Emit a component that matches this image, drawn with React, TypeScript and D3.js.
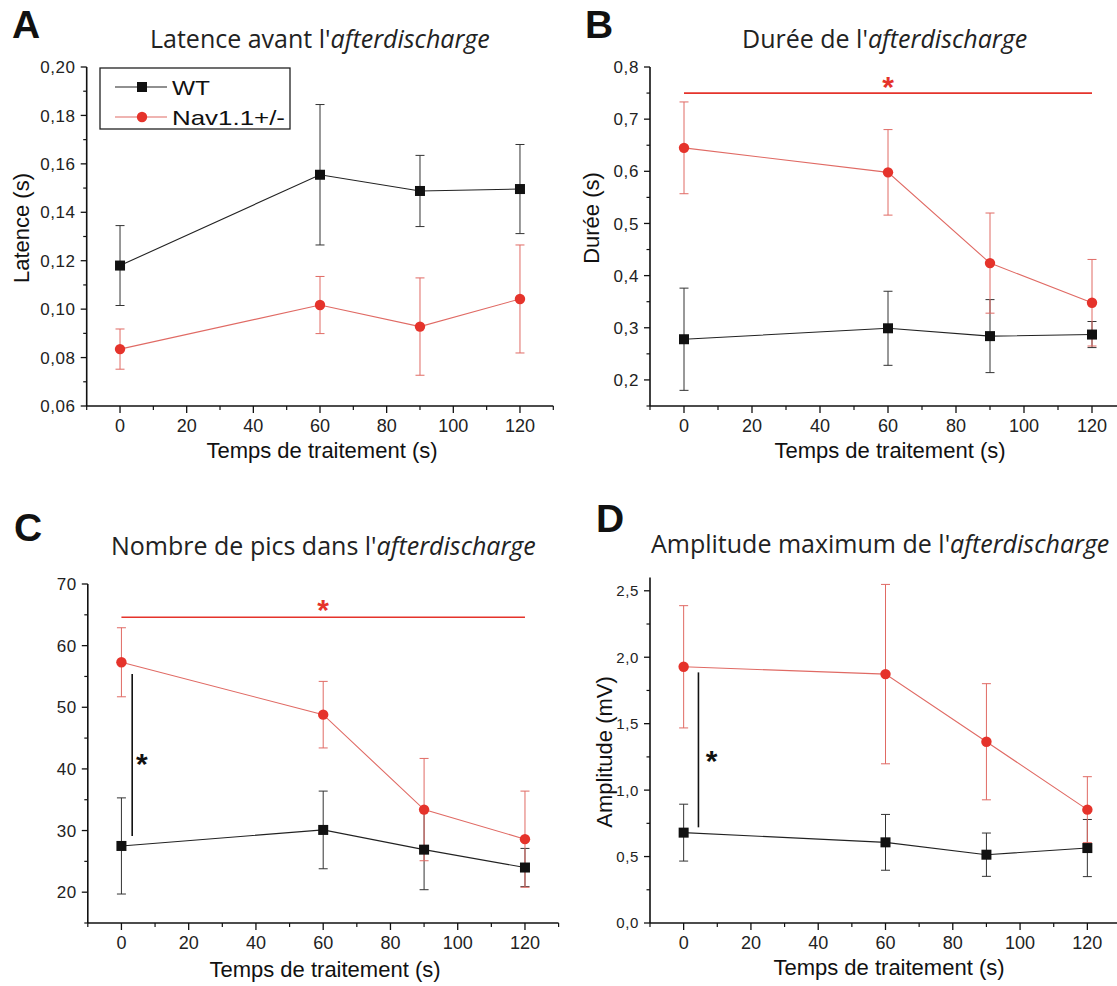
import React from 'react';
import * as d3 from 'd3';

// ---------- DATA ----------
const timePoints = [0, 60, 90, 120];
const xMajorTicks = [0, 20, 40, 60, 80, 100, 120];
const xMinorTicks = [-10, 10, 30, 50, 70, 90, 110, 130];

// A – Latence (s)
const latenceWT = [0.118, 0.1555, 0.1488, 0.1496];
const latenceWTErr = [0.0165, 0.029, 0.0147, 0.0184];
const latenceNav = [0.0835, 0.1017, 0.0928, 0.1042];
const latenceNavErr = [0.0083, 0.0118, 0.0201, 0.0223];
const latenceTicks = [0.06, 0.08, 0.1, 0.12, 0.14, 0.16, 0.18, 0.2];
const latenceMinor = [0.07, 0.09, 0.11, 0.13, 0.15, 0.17, 0.19];

// B – Durée (s)
const dureeWT = [0.278, 0.299, 0.284, 0.287];
const dureeWTErr = [0.098, 0.071, 0.07, 0.025];
const dureeNav = [0.645, 0.598, 0.424, 0.348];
const dureeNavErr = [0.088, 0.082, 0.096, 0.083];
const dureeTicks = [0.2, 0.3, 0.4, 0.5, 0.6, 0.7, 0.8];
const dureeMinor = [0.15, 0.25, 0.35, 0.45, 0.55, 0.65, 0.75];

// C – Nombre de pics
const picsWT = [27.5, 30.1, 26.9, 24.0];
const picsWTErr = [7.8, 6.3, 6.5, 3.1];
const picsNav = [57.3, 48.8, 33.4, 28.6];
const picsNavErr = [5.6, 5.4, 8.3, 7.8];
const picsTicks = [20, 30, 40, 50, 60, 70];
const picsMinor = [15, 25, 35, 45, 55, 65];

// D – Amplitude (mV)
const ampWT = [0.68, 0.607, 0.514, 0.564];
const ampWTErr = [0.214, 0.21, 0.163, 0.215];
const ampNav = [1.928, 1.873, 1.364, 0.853];
const ampNavErr = [0.46, 0.675, 0.437, 0.248];
const ampTicks = [0, 0.5, 1, 1.5, 2, 2.5];
const ampMinor = [0.25, 0.75, 1.25, 1.75, 2.25];

// significance marks (data units)
const sigDureeRed = { y: 0.75, x1: 0, x2: 120, starX: 60, starY: 0.776 };
const sigPicsRed = { y: 64.6, x1: 0, x2: 120, starX: 60, starY: 66.9 };
const sigPicsBlack = { x: 3.2, y1: 29.1, y2: 55.4, starX: 6.1, starY: 41.9 };
const sigAmpBlack = { x: 4.4, y1: 0.72, y2: 1.886, starX: 8.3, starY: 1.27 };

// ---------- STYLE ----------
const RED = '#e5332b';
const RED_LINE = '#e06a64';
const BLACK = '#111';
const TICK_FONT = '"Liberation Sans", Arial, sans-serif';
const TITLE_FONT = '"Open Sans", "Noto Sans", sans-serif';

const comma = (f: string) => (v: number) => d3.format(f)(v).replace('.', ',');

type Series = { vals: number[]; errs: number[]; kind: 'wt' | 'nav' };

type PanelCfg = {
  xRange: [number, number];
  yDomain: [number, number];
  yRange: [number, number];
  yTicks: number[];
  yMinor: number[];
  yFmt: (v: number) => string;
  yTickSize: number;
  series: Series[];
  letter: string;
  letterX: number;
  letterY: number;
  titleX: number;
  titleY: number;
  titleMain: string;
  titleSize: number;
  yLabel?: string;
  yLabelX?: number;
  yLabelY?: number;
  xLabelX: number;
  xLabelY: number;
  redSig?: { y: number; x1: number; x2: number; starX: number; starY: number };
  blackSig?: { x: number; y1: number; y2: number; starX: number; starY: number };
  legend?: boolean;
};

function Panel({ c }: { c: PanelCfg }) {
  const x = d3.scaleLinear().domain([-10, 130]).range(c.xRange);
  const y = d3.scaleLinear().domain(c.yDomain).range(c.yRange);
  const left = x(-10);
  const right = x(130);
  const bottom = y(c.yDomain[0]);
  const top = y(c.yDomain[1]);
  const line = d3
    .line<number>()
    .x((_, i) => x(timePoints[i]))
    .y((d) => y(d));
  const cap = 4.5;

  const errBars = (s: Series) =>
    s.vals.map((v, i) => {
      const xx = x(timePoints[i]);
      const y1 = y(v + s.errs[i]);
      const y2 = y(v - s.errs[i]);
      const col = s.kind === 'wt' ? '#333' : RED_LINE;
      return (
        <g key={`e${s.kind}${i}`} stroke={col} strokeWidth={1}>
          <line x1={xx} x2={xx} y1={y1} y2={y2} />
          <line x1={xx - cap} x2={xx + cap} y1={y1} y2={y1} />
          <line x1={xx - cap} x2={xx + cap} y1={y2} y2={y2} />
        </g>
      );
    });

  const markers = (s: Series) =>
    s.vals.map((v, i) => {
      const xx = x(timePoints[i]);
      const yy = y(v);
      return s.kind === 'wt' ? (
        <rect key={`m${s.kind}${i}`} x={xx - 5} y={yy - 5} width={10} height={10} fill={BLACK} />
      ) : (
        <circle key={`m${s.kind}${i}`} cx={xx} cy={yy} r={5.2} fill={RED} />
      );
    });

  return (
    <g>
      {/* panel letter */}
      <text x={c.letterX} y={c.letterY} fontFamily={TICK_FONT} fontWeight="bold" fontSize={39} fill="#111">
        {c.letter}
      </text>
      {/* title */}
      <text x={c.titleX} y={c.titleY} fontFamily={TITLE_FONT} fontSize={c.titleSize} fill="#222">
        <tspan>{c.titleMain}</tspan>
        <tspan fontStyle="italic">afterdischarge</tspan>
      </text>

      {/* axes */}
      <line x1={left} x2={left} y1={top} y2={bottom} stroke={BLACK} strokeWidth={1.6} />
      <line x1={left} x2={right} y1={bottom} y2={bottom} stroke={BLACK} strokeWidth={1.6} />
      {c.yTicks.map((t) => (
        <g key={`yt${t}`}>
          <line x1={left - 6} x2={left} y1={y(t)} y2={y(t)} stroke={BLACK} strokeWidth={1.3} />
          <text
            x={left - 11}
            y={y(t)}
            dy="0.36em"
            textAnchor="end"
            fontFamily={TICK_FONT}
            fontSize={c.yTickSize}
            letterSpacing={0.6}
            fill="#222"
          >
            {c.yFmt(t)}
          </text>
        </g>
      ))}
      {c.yMinor.map((t) => (
        <line key={`ym${t}`} x1={left - 3.5} x2={left} y1={y(t)} y2={y(t)} stroke={BLACK} strokeWidth={1.2} />
      ))}
      {xMajorTicks.map((t) => (
        <g key={`xt${t}`}>
          <line x1={x(t)} x2={x(t)} y1={bottom} y2={bottom + 7} stroke={BLACK} strokeWidth={1.3} />
          <text
            x={x(t)}
            y={bottom + 26}
            textAnchor="middle"
            fontFamily={TICK_FONT}
            fontSize={18}
            fill="#222"
          >
            {t}
          </text>
        </g>
      ))}
      {xMinorTicks.map((t) => (
        <line key={`xm${t}`} x1={x(t)} x2={x(t)} y1={bottom} y2={bottom + 4} stroke={BLACK} strokeWidth={1.2} />
      ))}

      {/* axis labels */}
      <text x={c.xLabelX} y={c.xLabelY} textAnchor="middle" fontFamily={TICK_FONT} fontSize={22} fill="#111">
        Temps de traitement (s)
      </text>
      {c.yLabel && (
        <text
          transform={`translate(${c.yLabelX},${c.yLabelY}) rotate(-90)`}
          textAnchor="middle"
          dy="0.36em"
          fontFamily={TICK_FONT}
          fontSize={22}
          fill="#111"
        >
          {c.yLabel}
        </text>
      )}

      {/* significance */}
      {c.redSig && (
        <g>
          <line
            x1={x(c.redSig.x1)}
            x2={x(c.redSig.x2)}
            y1={y(c.redSig.y)}
            y2={y(c.redSig.y)}
            stroke={RED}
            strokeWidth={1.6}
          />
          <text
            x={x(c.redSig.starX)}
            y={y(c.redSig.starY) + 17}
            textAnchor="middle"
            fontFamily={TICK_FONT}
            fontWeight="bold"
            fontSize={30}
            fill={RED}
          >
            *
          </text>
        </g>
      )}
      {c.blackSig && (
        <g>
          <line
            x1={x(c.blackSig.x)}
            x2={x(c.blackSig.x)}
            y1={y(c.blackSig.y1)}
            y2={y(c.blackSig.y2)}
            stroke={BLACK}
            strokeWidth={1.6}
          />
          <text
            x={x(c.blackSig.starX)}
            y={y(c.blackSig.starY) + 17}
            textAnchor="middle"
            fontFamily={TICK_FONT}
            fontWeight="bold"
            fontSize={30}
            fill={BLACK}
          >
            *
          </text>
        </g>
      )}

      {/* data */}
      {c.series.map((s) => (
        <g key={`eb${s.kind}`}>{errBars(s)}</g>
      ))}
      {c.series.map((s) => (
        <path
          key={`l${s.kind}`}
          d={line(s.vals) || ''}
          fill="none"
          stroke={s.kind === 'wt' ? '#222' : RED_LINE}
          strokeWidth={1.1}
        />
      ))}
      {c.series.map((s) => (
        <g key={`mk${s.kind}`}>{markers(s)}</g>
      ))}

      {c.legend && (
        <g>
          <rect x={100} y={68} width={190} height={61} fill="white" stroke="#222" strokeWidth={1.3} />
          <line x1={115} x2={167} y1={87} y2={87} stroke="#222" strokeWidth={1.1} />
          <rect x={137} y={82} width={10} height={10} fill={BLACK} />
          <text x={172} y={87} dy="0.36em" fontFamily={TICK_FONT} fontSize={21} fill="#111" textLength={38} lengthAdjust="spacingAndGlyphs">
            WT
          </text>
          <line x1={115} x2={167} y1={117} y2={117} stroke={RED_LINE} strokeWidth={1.1} />
          <circle cx={142} cy={117} r={5.2} fill={RED} />
          <text x={172} y={117} dy="0.36em" fontFamily={TICK_FONT} fontSize={21} fill="#111" textLength={113} lengthAdjust="spacingAndGlyphs">
            Nav1.1+/-
          </text>
        </g>
      )}
    </g>
  );
}

const panels: PanelCfg[] = [
  {
    xRange: [86.7, 553.3],
    yDomain: [0.06, 0.2],
    yRange: [406, 67],
    yTicks: latenceTicks,
    yMinor: latenceMinor,
    yFmt: comma('.2f'),
    yTickSize: 17,
    series: [
      { vals: latenceWT, errs: latenceWTErr, kind: 'wt' },
      { vals: latenceNav, errs: latenceNavErr, kind: 'nav' },
    ],
    letter: 'A',
    letterX: 12,
    letterY: 38,
    titleX: 150,
    titleY: 48,
    titleMain: "Latence avant l'",
    titleSize: 25,
    yLabel: 'Latence (s)',
    yLabelX: 21,
    yLabelY: 228,
    xLabelX: 322,
    xLabelY: 458,
    legend: true,
  },
  {
    xRange: [650, 1126],
    yDomain: [0.15, 0.8],
    yRange: [406, 67],
    yTicks: dureeTicks,
    yMinor: dureeMinor,
    yFmt: comma('.1f'),
    yTickSize: 17,
    series: [
      { vals: dureeWT, errs: dureeWTErr, kind: 'wt' },
      { vals: dureeNav, errs: dureeNavErr, kind: 'nav' },
    ],
    letter: 'B',
    letterX: 585,
    letterY: 38,
    titleX: 742,
    titleY: 48,
    titleMain: "Durée de l'",
    titleSize: 25,
    yLabel: 'Durée (s)',
    yLabelX: 591,
    yLabelY: 218,
    xLabelX: 890,
    xLabelY: 458,
    redSig: sigDureeRed,
  },
  {
    xRange: [87.8, 558.6],
    yDomain: [15, 70],
    yRange: [923, 584],
    yTicks: picsTicks,
    yMinor: picsMinor,
    yFmt: comma('d'),
    yTickSize: 17,
    series: [
      { vals: picsWT, errs: picsWTErr, kind: 'wt' },
      { vals: picsNav, errs: picsNavErr, kind: 'nav' },
    ],
    letter: 'C',
    letterX: 14,
    letterY: 541,
    titleX: 111,
    titleY: 555,
    titleMain: "Nombre de pics dans l'",
    titleSize: 25,
    xLabelX: 325,
    xLabelY: 977,
    redSig: sigPicsRed,
    blackSig: sigPicsBlack,
  },
  {
    xRange: [650, 1121],
    yDomain: [0, 2.6],
    yRange: [923, 577.5],
    yTicks: ampTicks,
    yMinor: ampMinor,
    yFmt: comma('.1f'),
    yTickSize: 15,
    series: [
      { vals: ampWT, errs: ampWTErr, kind: 'wt' },
      { vals: ampNav, errs: ampNavErr, kind: 'nav' },
    ],
    letter: 'D',
    letterX: 596,
    letterY: 532,
    titleX: 651,
    titleY: 553,
    titleMain: "Amplitude maximum de l'",
    titleSize: 25,
    yLabel: 'Amplitude (mV)',
    yLabelX: 604,
    yLabelY: 752,
    xLabelX: 889,
    xLabelY: 975,
    blackSig: sigAmpBlack,
  },
];

export default function App() {
  return (
    <svg
      width={1117}
      height={986}
      style={{ position: 'absolute', left: 0, top: 0, background: 'white' }}
    >
      <rect x={0} y={0} width={1117} height={986} fill="white" />
      {panels.map((p) => (
        <Panel key={p.letter} c={p} />
      ))}
    </svg>
  );
}
